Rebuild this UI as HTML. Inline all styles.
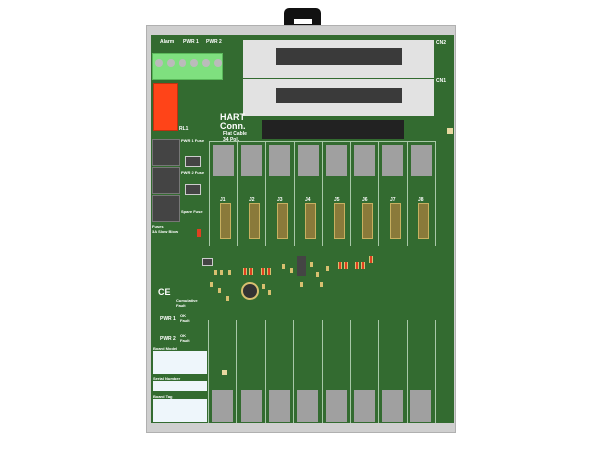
<!DOCTYPE html>
<html><head><style>
body{margin:0;width:600px;height:450px;background:#fff;position:relative;overflow:hidden;font-family:"Liberation Sans",sans-serif}
div{position:absolute;box-sizing:border-box}
.t{color:#fff;font-size:5px;font-weight:bold;white-space:nowrap}
.col{border-left:1px solid #a8c8a8;width:28px}
.g{background:#a0a0a0}
.j{background:#8a7a3a;border:1px solid #c8b060;width:11px;height:36px}
.smd{background:#d8c070;width:3px;height:5px}
.r{background:#e04020;width:4px;height:7px;border-left:1px solid #d8c070;border-right:1px solid #d8c070}
</style></head><body>
<!-- handle -->
<div style="left:284px;top:8px;width:37px;height:19px;background:#111;border-radius:5px 5px 0 0"></div>
<div style="left:294px;top:19px;width:18px;height:5px;background:#fff"></div>
<!-- frame -->
<div style="left:146px;top:25px;width:310px;height:408px;background:#cfcfcf;border:1px solid #b0b0b0"></div>
<div style="left:151px;top:35px;width:303px;height:388px;background:#336b30"></div>
<!-- top labels -->
<div class="t" style="left:160px;top:39px">Alarm</div>
<div class="t" style="left:183px;top:39px">PWR 1</div>
<div class="t" style="left:206px;top:39px">PWR 2</div>
<div style="left:152px;top:53px;width:71px;height:27px;background:#7fe07f;border:1px solid #5ab85a"></div>
<div style="left:155px;top:59px;width:67px;height:9px;display:flex;gap:4px">
<div style="position:static;width:8px;height:8px;border-radius:50%;background:#bbb"></div><div style="position:static;width:8px;height:8px;border-radius:50%;background:#bbb"></div><div style="position:static;width:8px;height:8px;border-radius:50%;background:#bbb"></div><div style="position:static;width:8px;height:8px;border-radius:50%;background:#bbb"></div><div style="position:static;width:8px;height:8px;border-radius:50%;background:#bbb"></div><div style="position:static;width:8px;height:8px;border-radius:50%;background:#bbb"></div></div>
<div style="left:153px;top:83px;width:25px;height:48px;background:#ff4418;border:1px solid #c03010"></div>
<div class="t" style="left:179px;top:126px">RL1</div>
<!-- CN2/CN1 -->
<div style="left:243px;top:40px;width:191px;height:38px;background:#e2e2e2"></div>
<div style="left:243px;top:79px;width:191px;height:37px;background:#e2e2e2"></div>
<div style="left:276px;top:48px;width:126px;height:17px;background:#3a3a3a"></div>
<div style="left:276px;top:88px;width:126px;height:15px;background:#3a3a3a"></div>
<div class="t" style="left:436px;top:40px">CN2</div>
<div class="t" style="left:436px;top:78px">CN1</div>
<div class="t" style="left:220px;top:112px;font-size:9px">HART</div>
<div class="t" style="left:220px;top:121px;font-size:9px">Conn.</div>
<div class="t" style="left:223px;top:131px">Flat Cable</div>
<div class="t" style="left:223px;top:137px">34 Pol.</div>
<div style="left:262px;top:120px;width:142px;height:19px;background:#222"></div>
<div style="left:447px;top:128px;width:6px;height:6px;background:#e8d8a0"></div>
<!-- fuses -->
<div style="left:152px;top:139px;width:28px;height:27px;background:#444;border:1px solid #777"></div>
<div style="left:152px;top:167px;width:28px;height:27px;background:#444;border:1px solid #777"></div>
<div style="left:152px;top:195px;width:28px;height:27px;background:#444;border:1px solid #777"></div>
<div style="left:185px;top:156px;width:16px;height:11px;background:#444;border:1px solid #ccc"></div>
<div style="left:185px;top:184px;width:16px;height:11px;background:#444;border:1px solid #ccc"></div>
<div class="t" style="left:181px;top:138px;font-size:4px">PWR 1 Fuse</div>
<div class="t" style="left:181px;top:170px;font-size:4px">PWR 2 Fuse</div>
<div class="t" style="left:181px;top:209px;font-size:4px">Spare Fuse</div>
<div class="t" style="left:152px;top:224px;font-size:4px">Fuses<br>3A Slow Blow</div>
<div style="left:197px;top:229px;width:4px;height:8px;background:#e04020"></div>
<!-- channel columns top -->
<div class="col" style="left:209px;top:141px;height:105px;border:1px solid #a8c8a8;width:227px;border-bottom:none"></div>
<div class="col" style="left:237px;top:141px;height:105px"></div>
<div class="col" style="left:265px;top:141px;height:105px"></div>
<div class="col" style="left:294px;top:141px;height:105px"></div>
<div class="col" style="left:322px;top:141px;height:105px"></div>
<div class="col" style="left:350px;top:141px;height:105px"></div>
<div class="col" style="left:378px;top:141px;height:105px"></div>
<div class="col" style="left:407px;top:141px;height:105px"></div>
<div class="g" style="left:213px;top:145px;width:21px;height:31px"></div>
<div class="g" style="left:241px;top:145px;width:21px;height:31px"></div>
<div class="g" style="left:269px;top:145px;width:21px;height:31px"></div>
<div class="g" style="left:298px;top:145px;width:21px;height:31px"></div>
<div class="g" style="left:326px;top:145px;width:21px;height:31px"></div>
<div class="g" style="left:354px;top:145px;width:21px;height:31px"></div>
<div class="g" style="left:382px;top:145px;width:21px;height:31px"></div>
<div class="g" style="left:411px;top:145px;width:21px;height:31px"></div>
<div class="t" style="left:220px;top:197px">J1</div><div class="j" style="left:220px;top:203px"></div>
<div class="t" style="left:249px;top:197px">J2</div><div class="j" style="left:249px;top:203px"></div>
<div class="t" style="left:277px;top:197px">J3</div><div class="j" style="left:277px;top:203px"></div>
<div class="t" style="left:305px;top:197px">J4</div><div class="j" style="left:305px;top:203px"></div>
<div class="t" style="left:334px;top:197px">J5</div><div class="j" style="left:334px;top:203px"></div>
<div class="t" style="left:362px;top:197px">J6</div><div class="j" style="left:362px;top:203px"></div>
<div class="t" style="left:390px;top:197px">J7</div><div class="j" style="left:390px;top:203px"></div>
<div class="t" style="left:418px;top:197px">J8</div><div class="j" style="left:418px;top:203px"></div>
<!-- middle components -->
<div style="left:241px;top:282px;width:18px;height:18px;border-radius:50%;background:#333;border:2px solid #d8c070"></div>
<div style="left:297px;top:256px;width:9px;height:20px;background:#444"></div>
<div style="left:202px;top:258px;width:11px;height:8px;background:#444;border:1px solid #ccc"></div>
<div class="r" style="left:243px;top:268px"></div><div class="r" style="left:249px;top:268px"></div><div class="r" style="left:261px;top:268px"></div><div class="r" style="left:267px;top:268px"></div>
<div class="r" style="left:338px;top:262px"></div><div class="r" style="left:344px;top:262px"></div><div class="r" style="left:355px;top:262px"></div><div class="r" style="left:361px;top:262px"></div><div class="r" style="left:369px;top:256px"></div>
<div class="smd" style="left:214px;top:270px"></div><div class="smd" style="left:220px;top:270px"></div><div class="smd" style="left:228px;top:270px"></div>
<div class="smd" style="left:210px;top:282px"></div><div class="smd" style="left:218px;top:288px"></div><div class="smd" style="left:226px;top:296px"></div>
<div class="smd" style="left:282px;top:264px"></div><div class="smd" style="left:290px;top:268px"></div><div class="smd" style="left:310px;top:262px"></div><div class="smd" style="left:316px;top:272px"></div><div class="smd" style="left:326px;top:266px"></div>
<div class="smd" style="left:262px;top:284px"></div><div class="smd" style="left:268px;top:290px"></div><div class="smd" style="left:300px;top:282px"></div><div class="smd" style="left:320px;top:282px"></div>
<!-- left texts -->
<div class="t" style="left:176px;top:298px;font-size:4px">Cumulative<br>Fault</div>
<div class="t" style="left:160px;top:316px">PWR 1</div>
<div class="t" style="left:180px;top:313px;font-size:4px">OK<br>Fault</div>
<div class="t" style="left:160px;top:336px">PWR 2</div>
<div class="t" style="left:180px;top:333px;font-size:4px">OK<br>Fault</div>
<div class="t" style="left:158px;top:287px;font-size:9px">CE</div>
<!-- bottom columns -->
<div class="col" style="left:208px;top:320px;height:103px"></div>
<div class="col" style="left:236px;top:320px;height:103px"></div>
<div class="col" style="left:265px;top:320px;height:103px"></div>
<div class="col" style="left:293px;top:320px;height:103px"></div>
<div class="col" style="left:322px;top:320px;height:103px"></div>
<div class="col" style="left:350px;top:320px;height:103px"></div>
<div class="col" style="left:378px;top:320px;height:103px"></div>
<div class="col" style="left:407px;top:320px;height:103px"></div>
<div class="col" style="left:435px;top:320px;height:103px"></div>
<div style="left:222px;top:370px;width:5px;height:5px;background:#e8d8a0"></div>
<div class="g" style="left:212px;top:390px;width:21px;height:32px"></div>
<div class="g" style="left:241px;top:390px;width:21px;height:32px"></div>
<div class="g" style="left:269px;top:390px;width:21px;height:32px"></div>
<div class="g" style="left:297px;top:390px;width:21px;height:32px"></div>
<div class="g" style="left:326px;top:390px;width:21px;height:32px"></div>
<div class="g" style="left:354px;top:390px;width:21px;height:32px"></div>
<div class="g" style="left:382px;top:390px;width:21px;height:32px"></div>
<div class="g" style="left:410px;top:390px;width:21px;height:32px"></div>
<!-- label boxes -->
<div class="t" style="left:153px;top:346px;font-size:4px">Board Model</div>
<div style="left:153px;top:351px;width:54px;height:23px;background:#eef6fb"></div>
<div class="t" style="left:153px;top:376px;font-size:4px">Serial Number</div>
<div style="left:153px;top:381px;width:54px;height:10px;background:#eef6fb"></div>
<div class="t" style="left:153px;top:394px;font-size:4px">Board Tag</div>
<div style="left:153px;top:399px;width:54px;height:23px;background:#eef6fb"></div>
</body></html>
